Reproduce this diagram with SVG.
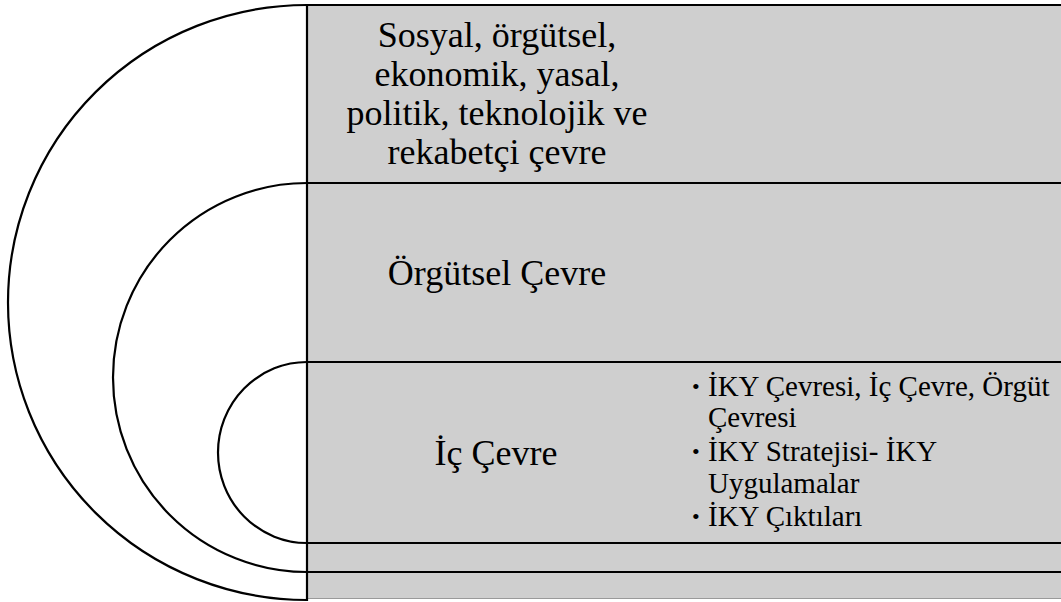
<svg xmlns="http://www.w3.org/2000/svg" width="1061" height="602" viewBox="0 0 1061 602">
<style>
.band{fill:#cfcfcf;stroke:none}
.ln{stroke:#000;stroke-width:2.2;fill:none}
.arc{stroke:#000;stroke-width:2.2;fill:none}
.big{font-size:36px;fill:#000;text-anchor:middle}
.sm{font-size:29px;fill:#000}
.bul{font-size:22px;fill:#000}
</style>
<rect width="1061" height="602" fill="#fff"/>
<g id="band-outer" font-family="Liberation Serif, Times New Roman, Times, DejaVu Serif, Noto Serif, serif">
<rect class="band" x="307" y="5" width="754" height="594"/>
<line x1="307" y1="598.5" x2="1061" y2="598.5" stroke="#9a9a9a" stroke-width="1"/>
<text class="big" x="497" y="47">Sosyal, örgütsel,</text>
<text class="big" x="497" y="86">ekonomik, yasal,</text>
<text class="big" x="497" y="125">politik, teknolojik ve</text>
<text class="big" x="497" y="164">rekabetçi çevre</text>
</g>
<g id="band-orgutsel" font-family="Liberation Serif, Times New Roman, Times, DejaVu Serif, Noto Serif, serif">
<text class="big" x="497" y="285">Örgütsel Çevre</text>
</g>
<g id="band-ic" font-family="Liberation Serif, Times New Roman, Times, DejaVu Serif, Noto Serif, serif">
<text class="big" x="496" y="465">İç Çevre</text>
<text class="bul" x="692" y="394">•</text>
<text class="sm" x="708" y="396">İKY Çevresi, İç Çevre, Örgüt</text>
<text class="sm" x="708" y="427">Çevresi</text>
<text class="bul" x="692" y="459">•</text>
<text class="sm" x="708" y="461">İKY Stratejisi- İKY</text>
<text class="sm" x="708" y="493">Uygulamalar</text>
<text class="bul" x="692" y="524">•</text>
<text class="sm" x="708" y="526">İKY Çıktıları</text>
</g>
<g id="connectors">
<line class="ln" x1="307" y1="5" x2="1061" y2="5"/>
<line class="ln" x1="307" y1="183" x2="1061" y2="183"/>
<line class="ln" x1="307" y1="362" x2="1061" y2="362"/>
<line class="ln" x1="307" y1="543" x2="1061" y2="543"/>
<line class="ln" x1="307" y1="572" x2="1061" y2="572"/>
<line class="ln" x1="307" y1="4" x2="307" y2="601"/>
<path class="arc" d="M307,5 A299,297.5 0 0 0 307,600"/>
<path class="arc" d="M307,183 A194,194.5 0 0 0 307,572"/>
<path class="arc" d="M307,362 A89,90.5 0 0 0 307,543"/>
</g>
</svg>
